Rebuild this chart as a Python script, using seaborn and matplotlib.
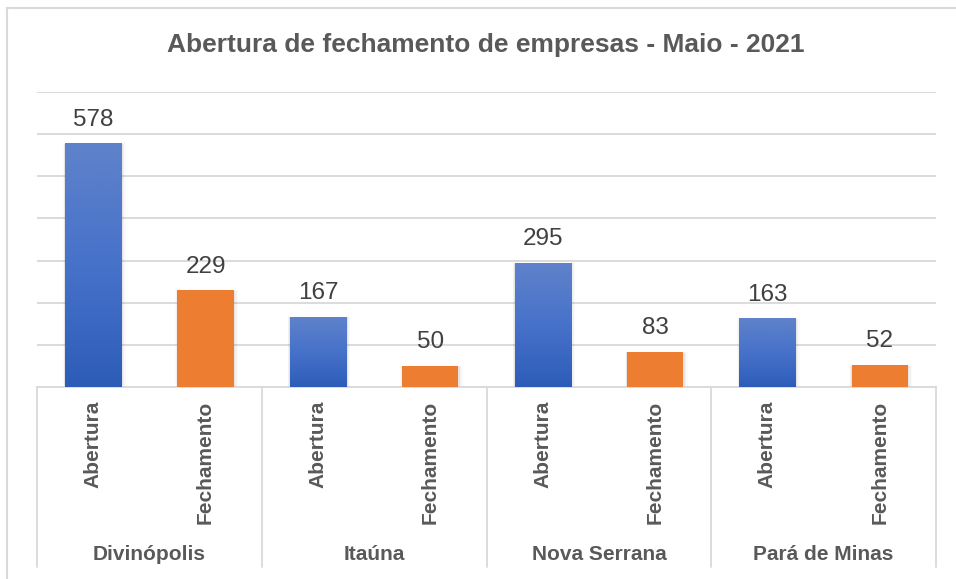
import numpy as np
import pandas as pd
import matplotlib
matplotlib.use("Agg")
import matplotlib.pyplot as plt
import matplotlib.transforms as mtransforms
from matplotlib.colors import LinearSegmentedColormap
from matplotlib.patches import Rectangle
import seaborn as sns

# ---- data ----
cidades = ["Divinópolis", "Itaúna", "Nova Serrana", "Pará de Minas"]
tipos = ["Abertura", "Fechamento"]
abertura = [578, 167, 295, 163]
fechamento = [229, 50, 83, 52]
titulo = "Abertura de fechamento de empresas - Maio - 2021"

rows = []
for i, c in enumerate(cidades):
    rows.append({"slot": f"{c}|Abertura", "cidade": c, "tipo": "Abertura", "valor": abertura[i]})
    rows.append({"slot": f"{c}|Fechamento", "cidade": c, "tipo": "Fechamento", "valor": fechamento[i]})
df = pd.DataFrame(rows)
order = list(df["slot"])

sns.set_theme(style="white")
plt.rcParams["font.family"] = ["Liberation Sans", "DejaVu Sans"]

W, H, DPI = 956, 579, 100
fig = plt.figure(figsize=(W / DPI, H / DPI), dpi=DPI)
fig.patch.set_facecolor("white")

L, R, T, B = 37, 936, 92, 387
ax = fig.add_axes([L / W, 1 - B / H, (R - L) / W, (B - T) / H])

blue = "#3F6CC4"
orange = "#ED7D31"
sns.barplot(data=df, x="slot", y="valor", hue="tipo", order=order,
            palette={"Abertura": blue, "Fechamento": orange},
            dodge=False, width=0.5, legend=False, ax=ax, saturation=1,
            edgecolor="none", linewidth=0, zorder=3)

ax.set_ylim(0, 700)
ax.set_xlim(-0.5, len(order) - 0.5)
ax.set_yticks(np.arange(0, 701, 100))
ax.yaxis.grid(True, color="#D9D9D9", linewidth=1.3, zorder=0)
ax.set_axisbelow(True)
ax.set_yticklabels([])
ax.tick_params(left=False, bottom=False)
ax.set_xticklabels([])
ax.set_xlabel("")
ax.set_ylabel("")
for s in ["top", "right", "left"]:
    ax.spines[s].set_visible(False)
ax.spines["bottom"].set_color("#D9D9D9")
ax.spines["bottom"].set_linewidth(1.3)

# gradient for blue bars + soft shadows + labels
cmap = LinearSegmentedColormap.from_list("g", ["#2D5CB8", "#4772CA", "#5F82CA"])
grad = np.linspace(0, 1, 256).reshape(-1, 1)
for p in list(ax.patches):
    x0, y0 = p.get_x(), p.get_y()
    w, h = p.get_width(), p.get_height()
    if h <= 0:
        continue
    for k, a in enumerate([0.05, 0.035, 0.02]):
        d = 0.012 * (k + 1)
        sh = Rectangle((x0 - d / 2, y0), w + d * 1.6, h - 2 + 2 * k * 0.5,
                       facecolor="#000000", alpha=a, edgecolor="none", zorder=2)
        ax.add_patch(sh)
    fc = p.get_facecolor()
    if np.allclose(fc[:3], matplotlib.colors.to_rgb(blue), atol=0.02):
        im = ax.imshow(grad, extent=[x0, x0 + w, y0, y0 + h], origin="lower",
                       cmap=cmap, aspect="auto", zorder=3.5)
        im.set_clip_path(p)
    ax.text(x0 + w / 2, y0 + h + 30, f"{int(round(h))}", ha="center", va="bottom",
            fontsize=17.5, color="#404040")
ax.set_xlim(-0.5, len(order) - 0.5)
ax.set_ylim(0, 700)

# multi-level category axis
trans = mtransforms.blended_transform_factory(ax.transData, ax.transAxes)
ybot = -(567 - B) / (B - T)
for xb in np.arange(-0.5, len(order), 2):
    ax.plot([xb, xb], [0, ybot], transform=trans, color="#D9D9D9",
            linewidth=1.3, clip_on=False, zorder=1)
for k, s in enumerate(order):
    t = s.split("|")[1]
    ax.text(k, -(401 - B) / (B - T), t, transform=trans, rotation=90,
            ha="center", va="top", fontsize=15, fontweight="bold", color="#595959")
for i, c in enumerate(cidades):
    ax.text(2 * i + 0.5, -(554 - B) / (B - T), c, transform=trans,
            ha="center", va="center", fontsize=15, fontweight="bold", color="#595959")

# title
fig.text(486 / W, 1 - 45 / H, titulo, ha="center", va="center",
         fontsize=19, fontweight="bold", color="#595959")

# outer chart border (cropped at right and bottom)
fig.add_artist(plt.Line2D([7 / W, 7 / W], [0, 1 - 8 / H], color="#D9D9D9",
                          linewidth=1.5, transform=fig.transFigure))
fig.add_artist(plt.Line2D([7 / W, 1], [1 - 8 / H, 1 - 8 / H], color="#D9D9D9",
                          linewidth=1.5, transform=fig.transFigure))

fig.savefig("out.png", dpi=DPI, facecolor="white")
